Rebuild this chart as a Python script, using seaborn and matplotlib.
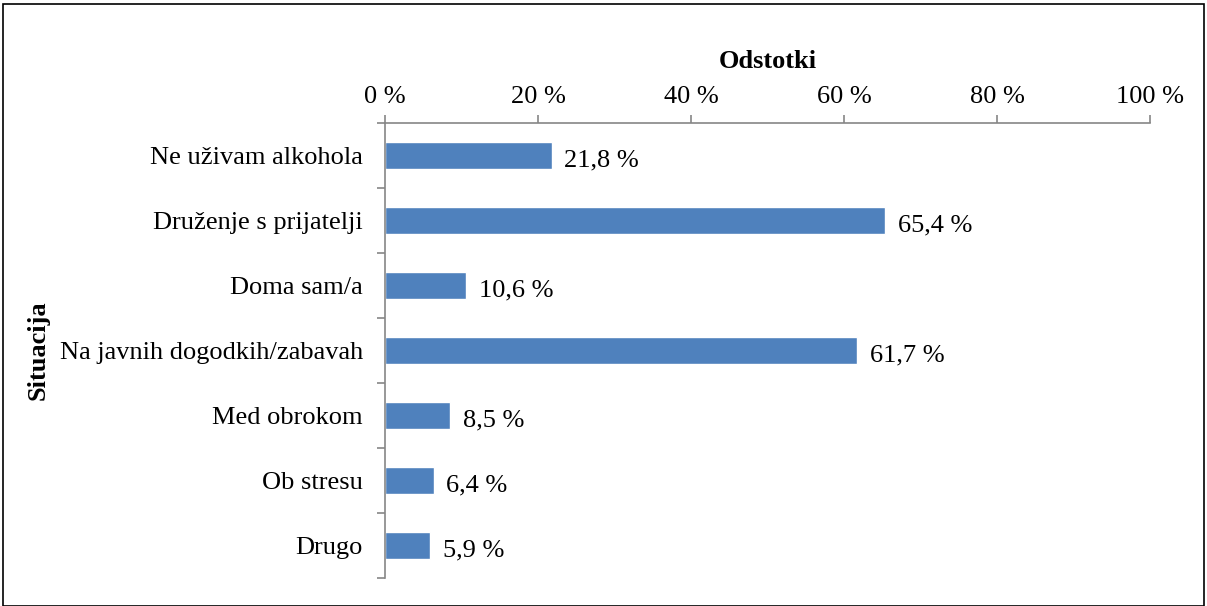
import matplotlib
matplotlib.use("Agg")
import matplotlib.pyplot as plt
import seaborn as sns
import pandas as pd
from matplotlib.patches import Rectangle

categories = ["Ne uživam alkohola", "Druženje s prijatelji", "Doma sam/a",
              "Na javnih dogodkih/zabavah", "Med obrokom", "Ob stresu", "Drugo"]
values = [21.8, 65.4, 10.6, 61.7, 8.5, 6.4, 5.9]
x_ticks = [0, 20, 40, 60, 80, 100]
x_tick_labels = ["0 %", "20 %", "40 %", "60 %", "80 %", "100 %"]

sns.set_theme(style="white")
plt.rcParams['font.family'] = ['Liberation Serif', 'DejaVu Serif']

FS = 19

df = pd.DataFrame({"Situacija": categories, "Odstotki": values})

fig = plt.figure(figsize=(12.07, 6.06), dpi=100)
ax = fig.add_axes([385/1207, 1-578/606, (1150-385)/1207, (578-123)/606])

sns.barplot(data=df, y="Situacija", x="Odstotki", orient="h", color="#4F81BD",
            saturation=1, width=0.41, ax=ax)

ax.set_xlim(0, 100)
ax.set_ylim(len(categories)-0.5, -0.5)

ax.xaxis.tick_top()
ax.xaxis.set_label_position("top")
ax.set_xticks(x_ticks)
ax.set_xticklabels(x_tick_labels, fontsize=FS, color="black")
ax.set_xlabel("Odstotki", fontsize=FS, fontweight="bold", labelpad=13, color="black")
ax.set_ylabel("")
fig.text(38/1207, 1-350/606, "Situacija", rotation=90, fontsize=FS,
         fontweight="bold", ha="center", va="center", color="black")

ax.set_yticks(range(len(categories)))
ax.set_yticklabels(categories, fontsize=FS, color="black")
ax.set_yticks([i - 0.5 for i in range(len(categories)+1)], minor=True)

grey = "#868686"
ax.tick_params(axis="x", which="major", top=True, bottom=False, direction="out",
               length=6, width=1.2, color=grey, pad=4.5)
ax.tick_params(axis="y", which="major", left=True, length=0, pad=16)
ax.tick_params(axis="y", which="minor", left=True, direction="out",
               length=6, width=1.2, color=grey)

for s in ["right", "bottom"]:
    ax.spines[s].set_visible(False)
for s in ["top", "left"]:
    ax.spines[s].set_color(grey)
    ax.spines[s].set_linewidth(1.2)

for i, v in enumerate(values):
    ax.annotate(f"{v:.1f} %".replace(".", ","), xy=(v, i), xytext=(9, -2),
                textcoords="offset points", va="center_baseline", ha="left",
                fontsize=FS, color="black")

fig.patches.append(Rectangle((3/1207, 0), 1-6/1207, 1-4/606, transform=fig.transFigure,
                             fill=False, edgecolor="black", linewidth=1.2))

fig.savefig("out.png", dpi=100)
